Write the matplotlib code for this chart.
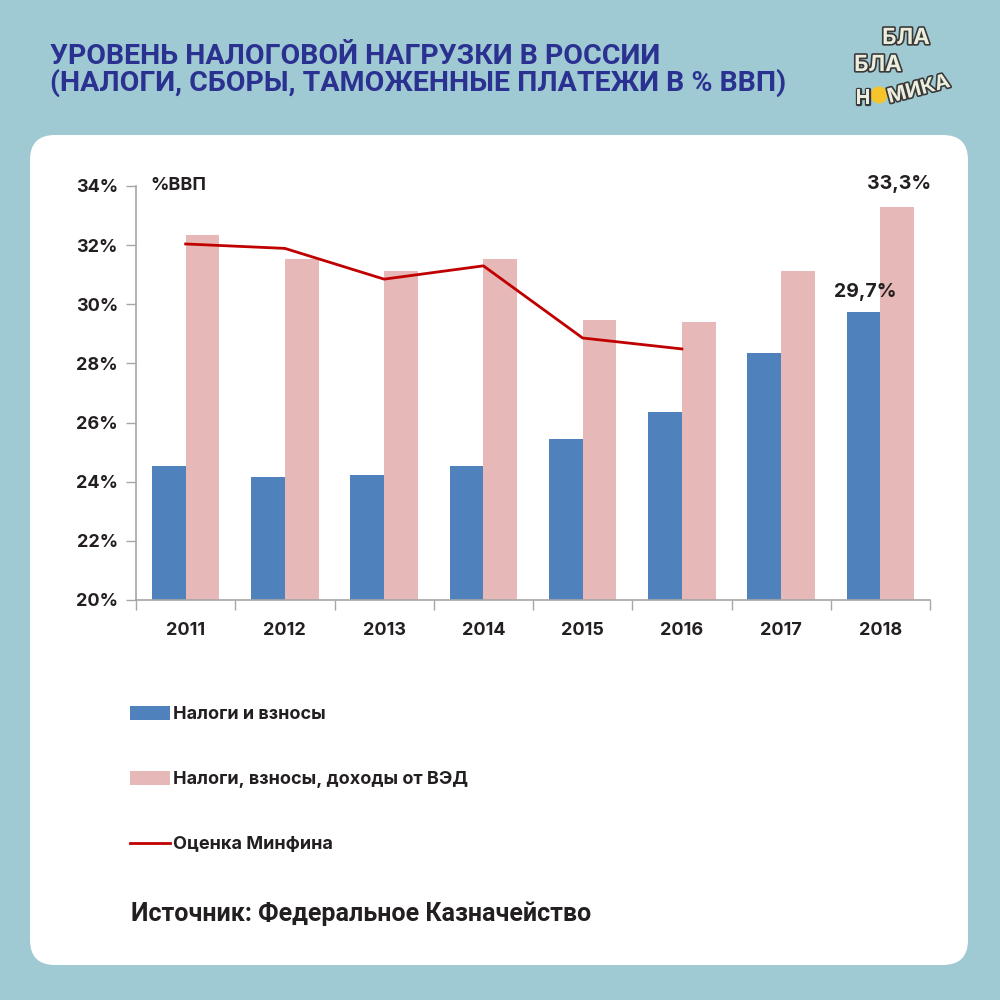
import matplotlib
matplotlib.use("Agg")
import matplotlib.pyplot as plt
import matplotlib.patheffects as pe
from matplotlib.patches import FancyBboxPatch, Patch, Circle
from matplotlib.lines import Line2D
import numpy as np

# data
years = ["2011", "2012", "2013", "2014", "2015", "2016", "2017", "2018"]
taxes = [24.53, 24.16, 24.23, 24.53, 25.44, 26.36, 28.35, 29.75]
taxes_ved = [32.33, 31.52, 31.14, 31.52, 29.47, 29.40, 31.14, 33.30]
minfin = [32.04, 31.89, 30.85, 31.30, 28.86, 28.49]
yticks = [20, 22, 24, 26, 28, 30, 32, 34]

title_lines = ["УРОВЕНЬ НАЛОГОВОЙ НАГРУЗКИ В РОССИИ",
               "(НАЛОГИ, СБОРЫ, ТАМОЖЕННЫЕ ПЛАТЕЖИ В % ВВП)"]
legend_labels = ["Налоги и взносы", "Налоги, взносы, доходы от ВЭД", "Оценка Минфина"]
source = "Источник: Федеральное Казначейство"

BG = "#9fcad3"
BLUE = "#4f81bd"
PINK = "#e6b8b7"
RED = "#c00000"
DARK = "#231f20"
AXIS = "#a6a6a6"

plt.rcParams["font.family"] = ["Inter", "DejaVu Sans"]

fig = plt.figure(figsize=(10, 10), dpi=100, facecolor=BG)

# white card behind the chart
card = FancyBboxPatch((0.030, 0.035), 0.938, 0.830,
                      boxstyle="round,pad=0,rounding_size=0.025",
                      transform=fig.transFigure, facecolor="white",
                      edgecolor="none", zorder=-5)
fig.patches.append(card)

# title
for i, line in enumerate(title_lines):
    fig.text(0.050, 0.944 - i * 0.027, line,
             fontsize=20.5, fontweight="bold", color="#2b3190",
             family=["Roboto", "DejaVu Sans"], va="center", ha="left")

# logo
logo_fx = [pe.withStroke(linewidth=2.4, foreground="#3a3a3a")]
logo_kw = dict(fontweight="bold", color="#eceedd", ha="center", va="center",
               path_effects=logo_fx)
fig.text(0.906, 0.962, "БЛА", fontsize=16, **logo_kw)
fig.text(0.878, 0.935, "БЛА", fontsize=16, **logo_kw)
fig.text(0.863, 0.902, "Н", fontsize=15, **logo_kw)
fig.patches.append(Circle((0.879, 0.905), 0.0085, transform=fig.transFigure,
                          facecolor="#f7c52b", edgecolor="none"))
fig.text(0.919, 0.910, "МИКА", fontsize=14.5, rotation=15, **logo_kw)

# chart
ax = fig.add_axes([0.136, 0.400, 0.794, 0.414])
ax.set_facecolor("none")
x = np.arange(len(years))
w = 0.34
ax.bar(x - w / 2, taxes, width=w, color=BLUE, zorder=2)
ax.bar(x + w / 2, taxes_ved, width=w, color=PINK, zorder=2)
ax.plot(x[:len(minfin)], minfin, color=RED, linewidth=2, zorder=3)

ax.set_xlim(-0.5, len(years) - 0.5)
ax.set_ylim(20, 34)
ax.set_yticks(yticks)
ax.set_yticklabels([f"{v}%" for v in yticks])
ax.set_xticks(x)
ax.set_xticklabels(years)
ax.set_xticks(np.arange(len(years) + 1) - 0.5, minor=True)
ax.tick_params(axis="x", which="major", length=0, pad=16)
ax.tick_params(axis="x", which="minor", length=7, color=AXIS, width=1)
ax.tick_params(axis="y", length=7, color=AXIS, width=1, pad=6)
for lbl in ax.get_xticklabels() + ax.get_yticklabels():
    lbl.set_fontsize(13)
    lbl.set_fontweight("bold")
    lbl.set_color(DARK)

for s in ["top", "right"]:
    ax.spines[s].set_visible(False)
for s in ["left", "bottom"]:
    ax.spines[s].set_color(AXIS)
    ax.spines[s].set_linewidth(1.2)

ax.text(0.018, 1.0, "%ВВП", transform=ax.transAxes, fontsize=13,
        fontweight="bold", color=DARK, ha="left", va="center")
ax.text(x[-1] - w / 2 + 0.02, taxes[-1] + 0.35, "29,7%", fontsize=14,
        fontweight="bold", color=DARK, ha="center", va="bottom")
ax.text(x[-1] + w / 2 + 0.02, taxes_ved[-1] + 0.45, "33,3%", fontsize=14,
        fontweight="bold", color=DARK, ha="center", va="bottom")

# legend
handles = [Patch(facecolor=BLUE, edgecolor="none"),
           Patch(facecolor=PINK, edgecolor="none"),
           Line2D([], [], color=RED, linewidth=2)]
leg = fig.legend(handles, legend_labels, loc="upper left",
                 bbox_to_anchor=(0.121, 0.303), frameon=False,
                 borderpad=0, handlelength=2.2, handleheight=0.78,
                 handletextpad=0.18, labelspacing=2.66,
                 prop={"size": 13, "weight": "bold"})
for t in leg.get_texts():
    t.set_color(DARK)

fig.text(0.131, 0.086, source, fontsize=18, fontweight="bold", color=DARK,
         family=["Roboto", "DejaVu Sans"], ha="left", va="center")

fig.savefig("out.png", dpi=100, facecolor=BG)
